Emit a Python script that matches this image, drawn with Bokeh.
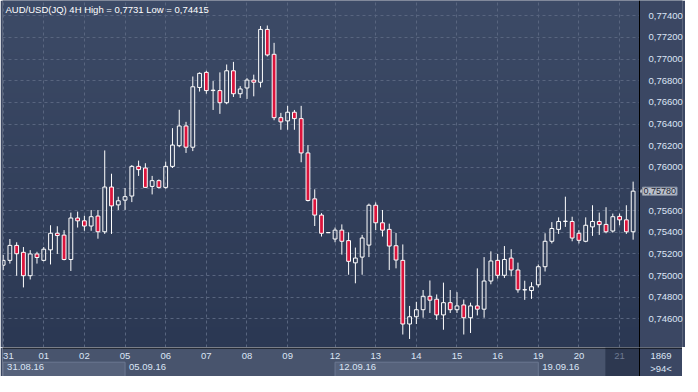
import numpy as np
from bokeh.plotting import figure
from bokeh.models import (Range1d, FixedTicker, CustomJSTickFormatter, Label, Span,
                          ColumnDataSource, Grid)
from bokeh.layouts import column
from bokeh.embed import file_html
from bokeh.resources import INLINE
from bokeh.core.properties import value

# ---------------- data (AUD/USD 4H candles) ----------------
opens = [
    0.75096, 0.75141, 0.75279, 0.75215, 0.74999, 0.75200,
    0.75141, 0.75238, 0.75391, 0.75374, 0.75149, 0.75532,
    0.75506, 0.75458, 0.75550, 0.75405, 0.75818, 0.75653,
    0.75697, 0.75735, 0.76009, 0.75994, 0.75824, 0.75877,
    0.75815, 0.76009, 0.76200, 0.76382, 0.76186, 0.76738,
    0.76877, 0.76713, 0.76709, 0.76597, 0.76892, 0.76680,
    0.76733, 0.76806, 0.76786, 0.77274, 0.77044, 0.76459,
    0.76429, 0.76509, 0.76450, 0.76133, 0.75709, 0.75559, 0.75398,
    0.75338, 0.75420, 0.75323, 0.75118, 0.75171, 0.75282,
    0.75650, 0.75488, 0.75427, 0.75276, 0.75141, 0.74553,
    0.74620, 0.74685, 0.74809, 0.74782, 0.74637, 0.74750,
    0.74685, 0.74729, 0.74611, 0.74720, 0.74690, 0.74950,
    0.75141, 0.75003, 0.75162, 0.75052, 0.74870, 0.74862,
    0.74915, 0.75082, 0.75317, 0.75427, 0.75500, 0.75500,
    0.75391, 0.75317, 0.75450, 0.75500, 0.75473, 0.75412,
    0.75547, 0.75515, 0.75405]
highs = [
    0.75191, 0.75338, 0.75308, 0.75264, 0.75235, 0.75220,
    0.75264, 0.75465, 0.75456, 0.75420, 0.75582, 0.75591,
    0.75553, 0.75606, 0.75606, 0.76156, 0.75941, 0.75729,
    0.75809, 0.76021, 0.76062, 0.76038, 0.75921, 0.75888,
    0.76053, 0.76362, 0.76532, 0.76420, 0.76839, 0.76877,
    0.76892, 0.76797, 0.76877, 0.76950, 0.76974, 0.76750,
    0.76824, 0.76856, 0.77305, 0.77310, 0.77150, 0.76503,
    0.76568, 0.76530, 0.76568, 0.76206, 0.75797, 0.75577, 0.75400,
    0.75444, 0.75473, 0.75400, 0.75259, 0.75376, 0.75665,
    0.75676, 0.75606, 0.75480, 0.75394, 0.75288, 0.74720,
    0.74758, 0.74867, 0.74955, 0.74826, 0.74935, 0.74867,
    0.74847, 0.74779, 0.74750, 0.75067, 0.75171, 0.75224,
    0.75200, 0.75273, 0.75244, 0.75120, 0.74953, 0.74939,
    0.75103, 0.75391, 0.75494, 0.75538, 0.75729, 0.75544,
    0.75420, 0.75538, 0.75650, 0.75582, 0.75632, 0.75573,
    0.75573, 0.75650, 0.75868]
lows = [
    0.75050, 0.75111, 0.74999, 0.74891, 0.74964, 0.75111,
    0.75132, 0.75103, 0.75200, 0.75141, 0.75043, 0.75444,
    0.75414, 0.75414, 0.75341, 0.75385, 0.75385, 0.75606,
    0.75606, 0.75679, 0.75921, 0.75809, 0.75750, 0.75804,
    0.75803, 0.75994, 0.76186, 0.76133, 0.76150, 0.76700,
    0.76680, 0.76530, 0.76494, 0.76583, 0.76650, 0.76641,
    0.76632, 0.76656, 0.76738, 0.77024, 0.76435, 0.76347,
    0.76347, 0.76347, 0.76047, 0.75685, 0.75458, 0.75361, 0.75394,
    0.75308, 0.75194, 0.75008, 0.74929, 0.75008, 0.75171,
    0.75420, 0.75361, 0.75052, 0.75067, 0.74456, 0.74415,
    0.74553, 0.74611, 0.74655, 0.74591, 0.74500, 0.74655,
    0.74655, 0.74456, 0.74470, 0.74632, 0.74611, 0.74920,
    0.74973, 0.74979, 0.74994, 0.74842, 0.74776, 0.74785,
    0.74891, 0.75038, 0.75297, 0.75385, 0.75450, 0.75317,
    0.75297, 0.75308, 0.75367, 0.75376, 0.75391, 0.75397,
    0.75465, 0.75385, 0.75332]
closes = [
    0.75141, 0.75279, 0.75202, 0.74999, 0.75200, 0.75167,
    0.75244, 0.75391, 0.75370, 0.75149, 0.75532, 0.75506,
    0.75458, 0.75544, 0.75405, 0.75818, 0.75644, 0.75691,
    0.75729, 0.76009, 0.75979, 0.75815, 0.75877, 0.75815,
    0.76009, 0.76206, 0.76382, 0.76186, 0.76744, 0.76868,
    0.76709, 0.76709, 0.76597, 0.76892, 0.76680, 0.76724,
    0.76806, 0.76786, 0.77274, 0.77038, 0.76459, 0.76420,
    0.76509, 0.76450, 0.76133, 0.75694, 0.75559, 0.75391, 0.75396,
    0.75420, 0.75317, 0.75132, 0.75162, 0.75347, 0.75650,
    0.75488, 0.75420, 0.75273, 0.75144, 0.74553, 0.74620,
    0.74685, 0.74809, 0.74773, 0.74637, 0.74750, 0.74685,
    0.74720, 0.74611, 0.74720, 0.74690, 0.74950, 0.75135,
    0.75003, 0.75149, 0.75052, 0.74869, 0.74868, 0.74897,
    0.75082, 0.75317, 0.75435, 0.75500, 0.75503, 0.75347,
    0.75326, 0.75465, 0.75500, 0.75471, 0.75405, 0.75544,
    0.75515, 0.75405, 0.75780]

day_labels = ["31", "01", "02", "05", "06", "07", "08", "09",
              "12", "13", "14", "15", "16", "19", "20", "21"]
day_start = [0, 6, 12, 18, 24, 30, 36, 42, 49, 55, 61, 67, 73, 79, 85, 91]
week_labels = ["31.08.16", "05.09.16", "12.09.16", "19.09.16"]
week_start = [0, 18, 49, 79]
y_ticks = [0.746, 0.748, 0.750, 0.752, 0.754, 0.756, 0.758, 0.760,
           0.762, 0.764, 0.766, 0.768, 0.770, 0.772, 0.774]
title_text = "AUD/USD(JQ) 4H High = 0,7731 Low = 0,74415"
last_price_text = "0,75780"
corner_text = "1869"

# ---------------- layout / style ----------------
FW, FH = 637, 347          # chart area
RW = 43                    # right price panel
SH = 29                    # bottom date strip
X0, X1 = -0.09, 93.94
Y0, Y1 = 0.74336, 0.77541
scale = FW / (X1 - X0)
XS1 = X0 + (FW + RW) / scale
FONT = "Liberation Sans"
LBL = "#dbe5f5"
PANEL = "#3b4763"
RED = "#dc143c"

p = figure(frame_width=FW + RW, frame_height=FH, x_range=Range1d(X0, XS1),
           y_range=Range1d(Y0, Y1), x_axis_type=None, y_axis_location="right",
           output_backend="svg", toolbar_location=None, tools="",
           min_border_left=2, min_border_right=0, min_border_top=0,
           min_border_bottom=0, outline_line_color=None,
           border_fill_color=PANEL, background_fill_color="#34405c")

# vertical gradient background of the chart area
n = 120
img = np.empty((n, 1), dtype=np.uint32)
view = img.view(dtype=np.uint8).reshape((n, 1, 4))
top_c = np.array([61, 75, 103])
bot_c = np.array([43, 56, 83])
for k in range(n):
    t = k / (n - 1)
    view[k, 0, :3] = (bot_c + (top_c - bot_c) * t).astype(np.uint8)
    view[k, 0, 3] = 255
p.image_rgba(image=[img], x=X0, y=Y0, dw=X1 - X0, dh=Y1 - Y0, level="image")

# grids
p.ygrid.ticker = FixedTicker(ticks=y_ticks)
p.ygrid.grid_line_color = "#58657f"
p.ygrid.grid_line_dash = "3 3"
p.add_layout(Grid(dimension=0, ticker=FixedTicker(ticks=day_start),
                  grid_line_color="#58657f", grid_line_dash="3 3"), "center")

# right price panel (covers grid there) and its separator
p.quad(left=[X1], right=[XS1], bottom=[Y0], top=[Y1], fill_color=PANEL, line_color=None)
p.add_layout(Span(location=X1, dimension="height", line_color="black", line_width=1))

# price axis: labels drawn back into the right panel
axis_ticks = [t for t in y_ticks if abs(t - closes[-1]) > 0.0005]
ax = p.yaxis[0]
ax.ticker = FixedTicker(ticks=axis_ticks)
ax.formatter = CustomJSTickFormatter(code="return tick.toFixed(5).replace('.', ',');")
ax.major_tick_line_color = None
ax.minor_tick_line_color = None
ax.axis_line_color = None
ax.major_label_text_color = LBL
ax.major_label_text_font = FONT
ax.major_label_text_font_size = "9.5px"
ax.major_label_standoff = -(RW - 3)

# candles
o = np.array(opens); c = np.array(closes)
h = np.array(highs); l = np.array(lows)
idx = np.arange(len(o))
up = c >= o
btop = np.maximum(o, c)
bbot = np.minimum(o, c)
src = ColumnDataSource(dict(x=idx, h=h, l=l, bt=btop, bb=bbot))
p.segment(x0="x", y0="h", x1="x", y1="bt", source=src, line_color="white", line_width=1)
p.segment(x0="x", y0="bb", x1="x", y1="l", source=src, line_color="white", line_width=1)
p.vbar(x=idx[up], top=btop[up], bottom=bbot[up], width=0.56,
       fill_alpha=0, line_color="white", line_width=1)
p.vbar(x=idx[~up], top=btop[~up], bottom=bbot[~up], width=0.56,
       fill_color=RED, line_color="white", line_width=1)

# title inside the plot
p.add_layout(Label(x=3, y=FH - 3, x_units="screen", y_units="screen",
                   text=title_text, text_color="white", text_font=FONT,
                   text_font_size="9.5px", text_baseline="top"))

# last price marker
p.scatter(x=[X1 + 4 / scale], y=[closes[-1]], marker="triangle", angle=np.pi / 2,
          size=8, fill_color="#b9c0cc", line_color="#8d95a5")
p.add_layout(Label(x=X1, y=closes[-1], x_units="data", y_units="data", x_offset=3,
                   text=last_price_text, text_color="#1b2232", text_font=FONT,
                   text_font_size="9px", text_baseline="middle",
                   background_fill_color="#b9c0cc", border_line_color="#8d95a5",
                   padding=1))

# ---------------- bottom strip (date axis) ----------------
s = figure(frame_width=FW + RW, frame_height=SH, x_range=Range1d(X0, XS1),
           y_range=Range1d(0, SH), x_axis_type=None, y_axis_type=None,
           output_backend="svg", toolbar_location=None, tools="",
           min_border_left=2, min_border_right=0, min_border_top=0,
           min_border_bottom=0, outline_line_color=None,
           border_fill_color=PANEL, background_fill_color="#48546d")

s.quad(left=[X1], right=[XS1], bottom=[0], top=[SH], fill_color=PANEL, line_color=None)
s.quad(left=[day_start[-1] - 2.1], right=[X1], bottom=[0], top=[SH],
       fill_color="#2d3850", line_color=None)

wk_right = week_start[1:] + [X1]
wl = [week_start[k] for k in range(0, len(week_start), 2)]
wr = [wk_right[k] for k in range(0, len(week_start), 2)]
s.quad(left=wl, right=wr, bottom=[-1] * len(wl), top=[14.3] * len(wl),
       fill_color="#56627b", line_color="#6c7892")

s.add_layout(Span(location=SH - 0.5, dimension="width", line_color="black", line_width=1))
s.add_layout(Span(location=X1, dimension="height", line_color="black", line_width=1))

day_colors = [LBL] * (len(day_labels) - 1) + ["#6f7b93"]
day_align = ["left"] + ["center"] * (len(day_labels) - 1)
s.text(x=day_start, y=[20.5] * len(day_start), text=day_labels,
       text_color=day_colors, text_align=day_align, text_font=value(FONT),
       text_font_size="9.5px", text_baseline="middle")
s.text(x=week_start, y=[9.5] * len(week_start), text=week_labels, x_offset=4,
       text_color=LBL, text_font=value(FONT), text_font_size="9.5px",
       text_align="left", text_baseline="middle")

cx = (X1 + XS1) / 2
s.text(x=[cx, cx], y=[21, 8.5], text=[corner_text, ">%d<" % len(opens)],
       text_color=LBL, text_font=value(FONT), text_font_size="9.5px",
       text_align="center", text_baseline="middle")

layout = column(p, s, spacing=0)
open("out.html", "w").write(file_html(layout, INLINE))
